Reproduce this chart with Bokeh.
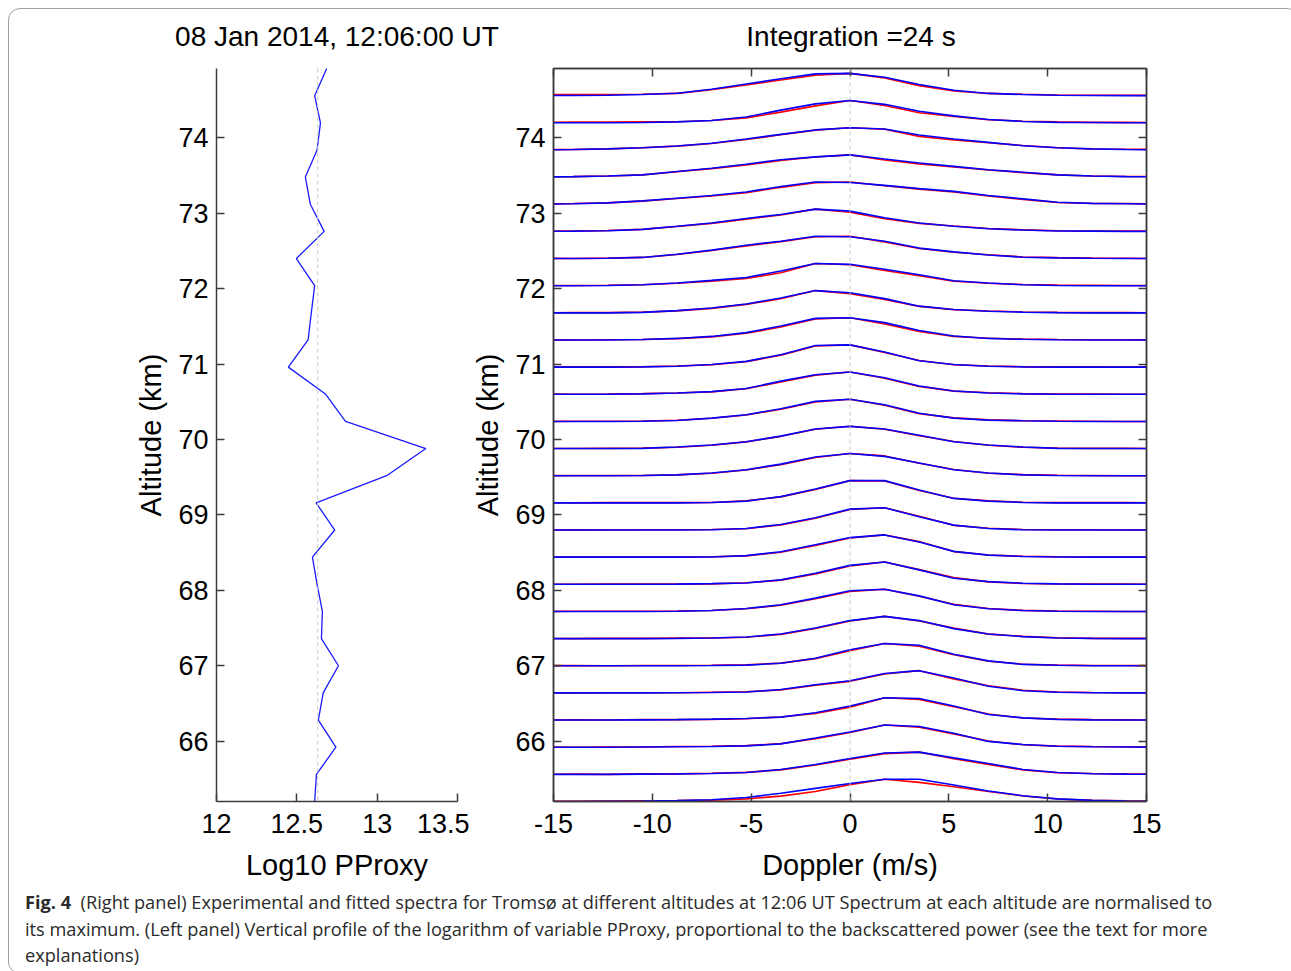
from bokeh.plotting import figure
from bokeh.models import Range1d, FixedTicker, LinearAxis, Span, Div
from bokeh.layouts import row, column
from bokeh.embed import file_html
from bokeh.resources import INLINE

FONT = "Liberation Sans"

# ---------------- data ----------------
altitudes = [65.20, 65.56, 65.92, 66.28, 66.64, 67.00, 67.36, 67.72, 68.08, 68.44,
             68.80, 69.16, 69.52, 69.88, 70.24, 70.60, 70.96, 71.32, 71.68, 72.04,
             72.40, 72.76, 73.12, 73.48, 73.84, 74.20, 74.56, 74.92]

log10_pproxy = [12.611, 12.622, 12.743, 12.634, 12.664, 12.759, 12.653, 12.659, 12.626, 12.597,
                12.736, 12.620, 13.059, 13.303, 12.803, 12.680, 12.447, 12.570, 12.590, 12.611,
                12.497, 12.670, 12.584, 12.553, 12.626, 12.647, 12.611, 12.686]
pproxy_reference = 12.63

doppler = [-15.75, -14.0, -12.25, -10.5, -8.75, -7.0, -5.25, -3.5, -1.75, 0.0,
           1.75, 3.5, 5.25, 7.0, 8.75, 10.5, 12.25, 14.0, 15.75]

# fitted spectra (blue), normalised, bottom altitude first
fitted = [
    [0, 0, 0.01, 0.02, 0.04, 0.08, 0.18, 0.37, 0.59, 0.81, 1.0, 1.0, 0.74, 0.47, 0.26, 0.12, 0.05, 0.02, 0.01],
    [0, 0, 0, 0.01, 0.02, 0.04, 0.08, 0.22, 0.44, 0.71, 0.96, 1.0, 0.74, 0.49, 0.22, 0.08, 0.03, 0.01, 0],
    [0, 0, 0, 0.01, 0.02, 0.03, 0.06, 0.15, 0.41, 0.68, 1.0, 0.93, 0.63, 0.26, 0.12, 0.04, 0.02, 0.01, 0],
    [0, 0, 0, 0.01, 0.02, 0.04, 0.07, 0.13, 0.33, 0.63, 1.0, 0.97, 0.63, 0.25, 0.10, 0.03, 0.01, 0, 0],
    [0, 0, 0, 0, 0.01, 0.02, 0.04, 0.15, 0.37, 0.55, 0.87, 1.0, 0.67, 0.30, 0.10, 0.03, 0.01, 0, 0],
    [0, 0, 0, 0, 0, 0.01, 0.03, 0.11, 0.34, 0.72, 1.0, 0.92, 0.52, 0.22, 0.06, 0.02, 0, 0, 0],
    [0, 0, 0, 0, 0.01, 0.03, 0.07, 0.21, 0.48, 0.81, 1.0, 0.81, 0.45, 0.21, 0.09, 0.03, 0.01, 0, 0],
    [0, 0, 0, 0, 0.01, 0.04, 0.13, 0.30, 0.60, 0.93, 1.0, 0.70, 0.30, 0.12, 0.04, 0.01, 0, 0, 0],
    [0, 0, 0, 0, 0.01, 0.03, 0.06, 0.20, 0.50, 0.85, 1.0, 0.65, 0.27, 0.12, 0.05, 0.02, 0, 0, 0],
    [0, 0, 0, 0, 0, 0.01, 0.07, 0.24, 0.56, 0.88, 1.0, 0.68, 0.26, 0.09, 0.03, 0.01, 0, 0, 0],
    [0, 0, 0, 0, 0, 0.01, 0.07, 0.25, 0.55, 0.94, 1.0, 0.60, 0.22, 0.07, 0.01, 0, 0, 0, 0],
    [0, 0, 0, 0, 0, 0.02, 0.08, 0.28, 0.62, 1.0, 1.0, 0.58, 0.20, 0.08, 0.02, 0, 0, 0, 0],
    [0, 0, 0, 0.01, 0.04, 0.12, 0.27, 0.52, 0.84, 1.0, 0.87, 0.57, 0.27, 0.12, 0.04, 0.01, 0, 0, 0],
    [0, 0, 0, 0.01, 0.07, 0.16, 0.31, 0.56, 0.88, 1.0, 0.88, 0.60, 0.31, 0.16, 0.07, 0.01, 0, 0, 0],
    [0, 0, 0, 0.01, 0.04, 0.15, 0.30, 0.57, 0.90, 1.0, 0.75, 0.37, 0.15, 0.06, 0.03, 0.01, 0, 0, 0],
    [0, 0, 0, 0.02, 0.06, 0.12, 0.26, 0.59, 0.88, 1.0, 0.74, 0.37, 0.15, 0.06, 0.02, 0, 0, 0, 0],
    [0, 0, 0, 0.01, 0.04, 0.12, 0.26, 0.56, 0.97, 1.0, 0.68, 0.29, 0.12, 0.04, 0.01, 0, 0, 0, 0],
    [0, 0, 0, 0.02, 0.07, 0.16, 0.33, 0.63, 0.97, 1.0, 0.78, 0.43, 0.18, 0.07, 0.03, 0.01, 0, 0, 0],
    [0, 0, 0, 0.02, 0.10, 0.22, 0.40, 0.67, 1.0, 0.90, 0.64, 0.30, 0.15, 0.07, 0.03, 0.01, 0, 0, 0],
    [0, 0, 0.01, 0.04, 0.12, 0.24, 0.37, 0.66, 1.0, 0.96, 0.74, 0.49, 0.22, 0.12, 0.04, 0.01, 0, 0, 0],
    [0, 0, 0.01, 0.05, 0.19, 0.38, 0.60, 0.78, 1.0, 0.98, 0.78, 0.47, 0.30, 0.16, 0.06, 0.03, 0.01, 0, 0],
    [0, 0.01, 0.03, 0.09, 0.23, 0.38, 0.58, 0.76, 1.0, 0.91, 0.61, 0.38, 0.23, 0.12, 0.06, 0.02, 0.01, 0, 0],
    [0, 0.02, 0.06, 0.15, 0.27, 0.39, 0.55, 0.80, 1.0, 0.98, 0.85, 0.70, 0.58, 0.39, 0.24, 0.09, 0.04, 0.02, 0],
    [0, 0.02, 0.05, 0.10, 0.25, 0.40, 0.58, 0.78, 0.91, 1.0, 0.81, 0.63, 0.48, 0.33, 0.22, 0.10, 0.05, 0.02, 0.01],
    [0, 0.02, 0.05, 0.10, 0.18, 0.30, 0.49, 0.70, 0.90, 1.0, 0.94, 0.67, 0.49, 0.34, 0.19, 0.10, 0.05, 0.02, 0],
    [0, 0, 0, 0.01, 0.04, 0.10, 0.26, 0.57, 0.85, 1.0, 0.83, 0.52, 0.31, 0.15, 0.06, 0.02, 0.01, 0, 0],
    [0, 0.01, 0.02, 0.05, 0.11, 0.29, 0.52, 0.76, 0.98, 1.0, 0.83, 0.50, 0.24, 0.10, 0.05, 0.02, 0.01, 0, 0],
]

# experimental spectra (red), normalised, bottom altitude first
experimental = [
    [0, 0.01, 0.02, 0.03, 0.04, 0.06, 0.12, 0.24, 0.45, 0.76, 1.0, 0.86, 0.66, 0.45, 0.25, 0.11, 0.05, 0.03, 0.02],
    [0, 0.01, 0, 0.02, 0.02, 0.05, 0.09, 0.20, 0.42, 0.68, 0.93, 1.0, 0.70, 0.45, 0.20, 0.07, 0.04, 0.02, 0.01],
    [0.01, 0, 0.01, 0.01, 0.03, 0.04, 0.07, 0.16, 0.38, 0.66, 1.0, 0.90, 0.60, 0.28, 0.11, 0.05, 0.03, 0.02, 0],
    [0, 0.01, 0, 0.02, 0.02, 0.03, 0.06, 0.14, 0.30, 0.58, 1.0, 0.93, 0.60, 0.27, 0.09, 0.04, 0.02, 0.01, 0],
    [0, 0, 0.01, 0.01, 0.01, 0.03, 0.05, 0.13, 0.35, 0.52, 0.85, 1.0, 0.63, 0.32, 0.12, 0.04, 0.02, 0.01, 0],
    [0, 0.01, 0, 0.01, 0.01, 0.02, 0.04, 0.12, 0.32, 0.68, 1.0, 0.88, 0.50, 0.20, 0.07, 0.03, 0.01, 0.01, 0],
    [0.01, 0, 0.01, 0.01, 0.02, 0.03, 0.06, 0.19, 0.46, 0.79, 1.0, 0.79, 0.47, 0.20, 0.10, 0.04, 0.01, 0.01, 0.01],
    [0, 0.01, 0.01, 0.01, 0.02, 0.04, 0.12, 0.28, 0.57, 0.90, 1.0, 0.68, 0.32, 0.13, 0.05, 0.02, 0.01, 0, 0],
    [0, 0, 0.01, 0.01, 0.01, 0.02, 0.07, 0.18, 0.47, 0.83, 1.0, 0.66, 0.30, 0.11, 0.04, 0.02, 0.01, 0.01, 0],
    [0.01, 0, 0.01, 0.01, 0.01, 0.02, 0.06, 0.22, 0.53, 0.86, 1.0, 0.70, 0.25, 0.10, 0.04, 0.02, 0.01, 0, 0],
    [0, 0.01, 0, 0.01, 0.01, 0.02, 0.06, 0.23, 0.53, 0.92, 1.0, 0.62, 0.21, 0.08, 0.02, 0.01, 0.01, 0, 0],
    [0.01, 0, 0.01, 0.01, 0.01, 0.02, 0.09, 0.27, 0.60, 1.0, 0.98, 0.56, 0.21, 0.09, 0.03, 0.01, 0.01, 0.01, 0],
    [0, 0.01, 0.01, 0.01, 0.04, 0.11, 0.26, 0.50, 0.82, 1.0, 0.89, 0.56, 0.28, 0.11, 0.05, 0.02, 0.01, 0, 0],
    [0.01, 0, 0.01, 0.02, 0.06, 0.15, 0.30, 0.55, 0.87, 1.0, 0.87, 0.58, 0.32, 0.15, 0.06, 0.02, 0.01, 0.01, 0],
    [0, 0.01, 0.01, 0.02, 0.05, 0.14, 0.29, 0.55, 0.87, 1.0, 0.73, 0.35, 0.16, 0.07, 0.03, 0.02, 0.01, 0, 0],
    [0.01, 0, 0.01, 0.03, 0.06, 0.11, 0.25, 0.55, 0.86, 1.0, 0.72, 0.35, 0.14, 0.07, 0.03, 0.01, 0.01, 0, 0],
    [0, 0.01, 0.01, 0.02, 0.05, 0.11, 0.24, 0.54, 0.95, 1.0, 0.66, 0.30, 0.11, 0.05, 0.02, 0.01, 0.01, 0, 0],
    [0.01, 0, 0.01, 0.02, 0.06, 0.14, 0.30, 0.58, 0.95, 1.0, 0.72, 0.38, 0.16, 0.08, 0.04, 0.02, 0.01, 0.01, 0],
    [0, 0.01, 0.01, 0.03, 0.09, 0.20, 0.38, 0.63, 1.0, 0.86, 0.60, 0.29, 0.14, 0.08, 0.04, 0.02, 0.01, 0.01, 0],
    [0.01, 0.01, 0.02, 0.04, 0.11, 0.20, 0.32, 0.58, 1.0, 0.94, 0.68, 0.45, 0.20, 0.11, 0.05, 0.03, 0.02, 0.01, 0.01],
    [0.01, 0, 0.02, 0.05, 0.18, 0.36, 0.57, 0.76, 0.98, 1.0, 0.75, 0.45, 0.28, 0.17, 0.07, 0.04, 0.02, 0.01, 0],
    [0.02, 0.02, 0.04, 0.09, 0.22, 0.36, 0.55, 0.74, 1.0, 0.86, 0.57, 0.36, 0.24, 0.13, 0.07, 0.03, 0.02, 0.01, 0.02],
    [0.01, 0.03, 0.06, 0.14, 0.26, 0.37, 0.52, 0.76, 0.97, 1.0, 0.83, 0.68, 0.55, 0.37, 0.22, 0.08, 0.03, 0.03, 0.01],
    [0.01, 0.02, 0.05, 0.10, 0.24, 0.38, 0.55, 0.75, 0.90, 1.0, 0.77, 0.59, 0.46, 0.32, 0.20, 0.10, 0.05, 0.03, 0.02],
    [0.01, 0.02, 0.05, 0.10, 0.17, 0.29, 0.47, 0.68, 0.89, 1.0, 0.93, 0.61, 0.45, 0.32, 0.20, 0.10, 0.04, 0.03, 0.02],
    [0.02, 0.03, 0.03, 0.04, 0.05, 0.10, 0.22, 0.48, 0.76, 1.0, 0.78, 0.45, 0.29, 0.14, 0.07, 0.04, 0.02, 0.02, 0.01],
    [0.04, 0.05, 0.05, 0.06, 0.10, 0.27, 0.48, 0.70, 0.92, 1.0, 0.80, 0.45, 0.21, 0.10, 0.06, 0.03, 0.02, 0.02, 0.01],
]
spectrum_height_km = 0.295

altitude_ticks = [66, 67, 68, 69, 70, 71, 72, 73, 74]
pproxy_ticks = [12, 12.5, 13, 13.5]
pproxy_tick_labels = ["12", "12.5", "13", "13.5"]
doppler_ticks = [-15, -10, -5, 0, 5, 10, 15]
doppler_tick_labels = ["-15", "-10", "-5", "0", "5", "10", "15"]

left_title = "08 Jan 2014, 12:06:00 UT"
right_title = "Integration =24 s"

# ---------------- styling helpers ----------------
AX = "#3c3c3c"


def style_axis(ax, show_labels=True, standoff=8, label_standoff=8):
    ax.major_tick_in = 8
    ax.major_tick_out = 0
    ax.minor_tick_line_color = None
    ax.axis_line_color = AX
    ax.axis_line_width = 1.5
    ax.major_tick_line_color = AX
    ax.major_tick_line_width = 1.5
    ax.major_label_text_font = FONT
    ax.major_label_text_color = "black"
    ax.major_label_standoff = standoff
    ax.axis_label_text_font = FONT
    ax.axis_label_text_font_size = "29px"
    ax.axis_label_text_font_style = "normal"
    ax.axis_label_text_color = "black"
    ax.axis_label_standoff = label_standoff
    if show_labels:
        ax.major_label_text_font_size = "27px"
    else:
        ax.major_label_text_font_size = "0px"
        ax.major_label_text_color = None


alt_min, alt_max = altitudes[0], altitudes[-1]
TITLE_STYLE = {"font-family": FONT, "font-size": "28px", "line-height": "34px",
               "color": "black", "text-align": "center", "padding-top": "6px",
               "white-space": "nowrap"}

# ---------------- titles ----------------
t1 = Div(text=left_title, width=646, height=39, styles=dict(TITLE_STYLE))
t2 = Div(text=right_title, width=362, height=39, styles=dict(TITLE_STYLE))

# ---------------- left panel ----------------
p1 = figure(x_range=Range1d(12, 13.5), y_range=Range1d(alt_min, alt_max),
            frame_width=241, frame_height=733,
            min_border_left=207, min_border_right=12, min_border_top=10, min_border_bottom=80,
            output_backend="svg", toolbar_location=None)
p1.grid.visible = False
p1.outline_line_color = None
p1.background_fill_color = "white"
p1.border_fill_color = "white"
p1.xaxis.ticker = FixedTicker(ticks=pproxy_ticks)
p1.xaxis.major_label_overrides = dict(zip(pproxy_ticks, pproxy_tick_labels))
p1.yaxis.ticker = FixedTicker(ticks=altitude_ticks)
p1.xaxis.axis_label = "Log10 PProxy"
p1.yaxis.axis_label = "Altitude (km)"
for ax in p1.xaxis:
    style_axis(ax, standoff=12, label_standoff=13)
for ax in p1.yaxis:
    style_axis(ax)

p1.add_layout(Span(location=pproxy_reference, dimension="height", line_color="#c8c8c8",
                   line_dash="4 3", line_width=1))
p1.line(log10_pproxy, altitudes, line_color="#1a1aff", line_width=1.3)

# ---------------- right panel ----------------
p2 = figure(x_range=Range1d(-15, 15), y_range=Range1d(alt_min, alt_max),
            frame_width=593, frame_height=733,
            min_border_left=84, min_border_right=142, min_border_top=10, min_border_bottom=80,
            output_backend="svg", toolbar_location=None)
p2.grid.visible = False
p2.outline_line_color = AX
p2.outline_line_width = 1.5
p2.background_fill_color = "white"
p2.border_fill_color = "white"
p2.xaxis.ticker = FixedTicker(ticks=doppler_ticks)
p2.xaxis.major_label_overrides = dict(zip(doppler_ticks, doppler_tick_labels))
p2.yaxis.ticker = FixedTicker(ticks=altitude_ticks)
p2.xaxis.axis_label = "Doppler (m/s)"
p2.yaxis.axis_label = "Altitude (km)"
for ax in p2.xaxis:
    style_axis(ax, standoff=12, label_standoff=13)
for ax in p2.yaxis:
    style_axis(ax)

top_axis = LinearAxis(ticker=FixedTicker(ticks=doppler_ticks))
style_axis(top_axis, show_labels=False)
p2.add_layout(top_axis, "above")
right_axis = LinearAxis(ticker=FixedTicker(ticks=altitude_ticks))
style_axis(right_axis, show_labels=False)
p2.add_layout(right_axis, "right")

p2.add_layout(Span(location=0, dimension="height", line_color="#c8c8c8",
                   line_dash="4 3", line_width=1))

n_spec = len(fitted)
xs = [doppler] * n_spec
ys_exp = [[altitudes[i] + spectrum_height_km * v for v in experimental[i]] for i in range(n_spec)]
ys_fit = [[altitudes[i] + spectrum_height_km * v for v in fitted[i]] for i in range(n_spec)]
p2.multi_line(xs, ys_exp, line_color="#ff0000", line_width=1.6)
p2.multi_line(xs, ys_fit, line_color="#0000ff", line_width=1.6)

# ---------------- caption ----------------
caption_html = (
    "<b style='font-weight:700'>Fig. 4</b>&nbsp; (Right panel) Experimental and fitted spectra for Troms\u00f8 at "
    "different altitudes at 12:06 UT Spectrum at each altitude are normalised to<br>"
    "its maximum. (Left panel) Vertical profile of the logarithm of variable PProxy, proportional to the "
    "backscattered power (see the text for more<br>"
    "explanations)"
)
caption = Div(text=caption_html, width=1279, height=80,
              styles={"font-family": "Open Sans", "font-size": "18.2px", "line-height": "26.5px",
                      "color": "#2a2a2a", "padding-left": "11px", "padding-top": "0px",
                      "position": "relative", "top": "1px",
                      "white-space": "nowrap"})

layout = column(row(t1, t2), row(p1, p2), caption,
                styles={"border": "1px solid #a0a0a0", "border-radius": "12px",
                        "margin-left": "8px", "margin-top": "8px", "background": "white"})

open("out.html", "w").write(file_html(layout, INLINE))
